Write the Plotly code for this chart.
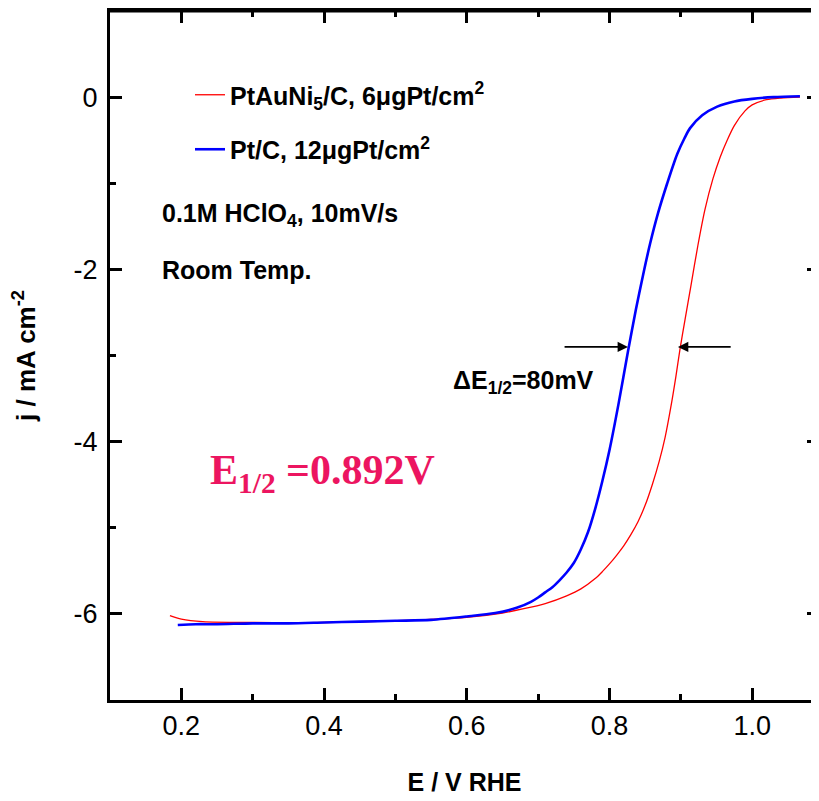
import plotly.graph_objects as go

# PtAuNi5/C (red)
red_E = [0.184, 0.20, 0.23, 0.30, 0.40, 0.50, 0.60, 0.65, 0.68, 0.71, 0.74, 0.76, 0.78, 0.79,
         0.80, 0.81, 0.82, 0.83, 0.84, 0.85, 0.86, 0.87, 0.878, 0.886, 0.893, 0.899, 0.906, 0.914,
         0.924, 0.934, 0.945, 0.955, 0.965, 0.975, 0.99, 1.00, 1.02, 1.04, 1.067]
red_j = [-6.02, -6.06, -6.09, -6.10, -6.10, -6.08, -6.04, -5.99, -5.94, -5.88, -5.79, -5.71, -5.59, -5.51,
         -5.42, -5.32, -5.21, -5.08, -4.93, -4.74, -4.50, -4.22, -3.95, -3.60, -3.25, -2.92, -2.58, -2.20,
         -1.72, -1.30, -0.95, -0.70, -0.50, -0.33, -0.16, -0.09, -0.03, -0.01, 0.0]

# Pt/C (blue)
blue_E = [0.195, 0.22, 0.25, 0.30, 0.35, 0.40, 0.45, 0.50, 0.55, 0.60, 0.64, 0.67, 0.69, 0.70,
          0.71, 0.72, 0.73, 0.74, 0.75, 0.76, 0.77, 0.78, 0.79, 0.80, 0.813, 0.826, 0.837,
          0.847, 0.857, 0.868, 0.881, 0.895, 0.905, 0.913, 0.93, 0.951, 0.975, 1.00, 1.03, 1.067]
blue_j = [-6.13, -6.12, -6.12, -6.11, -6.11, -6.10, -6.09, -6.08, -6.07, -6.03, -5.99, -5.93, -5.86, -5.81,
          -5.75, -5.69, -5.61, -5.52, -5.41, -5.25, -5.05, -4.78, -4.46, -4.10, -3.55, -2.95, -2.47,
          -2.07, -1.70, -1.35, -1.00, -0.66, -0.48, -0.36, -0.21, -0.11, -0.05, -0.02, 0.0, 0.01]

x_ticks = [0.2, 0.4, 0.6, 0.8, 1.0]
x_ticklabels = ["0.2", "0.4", "0.6", "0.8", "1.0"]
y_ticks = [0, -2, -4, -6]
y_ticklabels = ["0", "-2", "-4", "-6"]

half_wave_j = -2.9
E_half_blue = 0.826
E_half_red = 0.896

SANS = "Liberation Sans, Arial, sans-serif"
X_RANGE = [0.1, 1.0937]
Y_RANGE = [-7, 1]

fig = go.Figure()
fig.add_trace(go.Scatter(x=red_E, y=red_j, mode="lines",
                         line=dict(color="#ff0000", width=1.3, shape="spline", smoothing=0.8),
                         name="<b>PtAuNi<sub>5</sub>/C, 6μgPt/cm<sup>2</sup></b>", legendgroup="a",
                         xaxis="x", yaxis="y"))
fig.add_trace(go.Scatter(x=blue_E, y=blue_j, mode="lines",
                         line=dict(color="#0000ff", width=2.6, shape="spline", smoothing=0.8),
                         name="<b>Pt/C, 12μgPt/cm<sup>2</sup></b>", legendgroup="b",
                         xaxis="x2", yaxis="y2"))

tickstyle = dict(ticks="inside", ticklen=12, tickwidth=3, tickcolor="black")
minorstyle = dict(ticks="inside", ticklen=6, tickwidth=3, tickcolor="black")

# the page body keeps an 8 px margin, so the figure is sized to end at the window edge
fig.update_layout(
    width=811, height=793,
    margin=dict(l=102, r=0, t=3, b=101, autoexpand=False),
    paper_bgcolor="white", plot_bgcolor="white",
    showlegend=True,
    legend=dict(x=(190 - 110) / 709, y=1 - (72 - 11) / 689, xanchor="left", yanchor="top",
                font=dict(family=SANS, size=25, color="black"),
                bgcolor="rgba(0,0,0,0)", tracegroupgap=19),
    xaxis=dict(range=X_RANGE, tickvals=x_ticks, ticktext=x_ticklabels, automargin=False,
               showline=True, linewidth=3, linecolor="black", mirror=False,
               showgrid=False, zeroline=False, **tickstyle,
               minor=dict(dtick=0.1, **minorstyle),
               tickfont=dict(family=SANS, size=27, color="black"),
               title=dict(text="<b>E / V RHE</b>", font=dict(family=SANS, size=25, color="black"), standoff=34)),
    xaxis2=dict(range=X_RANGE, overlaying="x", side="top", anchor="y2", tickvals=x_ticks,
                showticklabels=False, automargin=False,
                showline=True, linewidth=3, linecolor="black",
                showgrid=False, zeroline=False, **tickstyle,
                minor=dict(dtick=0.1, **minorstyle)),
    yaxis=dict(range=Y_RANGE, tickvals=y_ticks, ticktext=y_ticklabels, automargin=False,
               showline=True, linewidth=3, linecolor="black", mirror=False,
               showgrid=False, zeroline=False, **tickstyle,
               minor=dict(dtick=1, **minorstyle),
               ticklabelstandoff=4,
               tickfont=dict(family=SANS, size=27, color="black"),
               title=dict(text="<b>j / mA cm<sup>-2</sup></b>", font=dict(family=SANS, size=26, color="black"), standoff=34)),
    yaxis2=dict(range=Y_RANGE, overlaying="y", side="right", anchor="x2", tickvals=y_ticks,
                showticklabels=False, automargin=False, showline=False, showgrid=False, zeroline=False,
                **tickstyle, minor=dict(dtick=1, **minorstyle)),
)

# top frame edge of the plot area
fig.add_shape(type="line", xref="paper", yref="paper", x0=0, x1=1, y0=1, y1=1,
              line=dict(color="black", width=3), layer="above")

# arrows marking E1/2
fig.add_annotation(x=E_half_blue, y=half_wave_j, ax=0.735, ay=half_wave_j, axref="x", ayref="y",
                   xref="x", yref="y", text="", showarrow=True, arrowhead=2, arrowsize=1.3,
                   arrowwidth=1.6, arrowcolor="black", standoff=0)
fig.add_annotation(x=E_half_red, y=half_wave_j, ax=0.972, ay=half_wave_j, axref="x", ayref="y",
                   xref="x", yref="y", text="", showarrow=True, arrowhead=2, arrowsize=1.3,
                   arrowwidth=1.6, arrowcolor="black", standoff=0)
fig.add_annotation(x=0.679, y=-3.31, xref="x", yref="y", text="<b>ΔE<sub>1/2</sub>=80mV</b>",
                   showarrow=False, font=dict(family=SANS, size=25, color="black"))
fig.add_annotation(x=0.170, y=-1.37, xref="x", yref="y", xanchor="left", text="<b>0.1M HClO<sub>4</sub>, 10mV/s</b>",
                   showarrow=False, font=dict(family=SANS, size=25, color="black"))
fig.add_annotation(x=0.170, y=-2.01, xref="x", yref="y", xanchor="left", text="<b>Room Temp.</b>",
                   showarrow=False, font=dict(family=SANS, size=25, color="black"))
fig.add_annotation(x=0.237, y=-4.37, xref="x", yref="y", xanchor="left", text="<b>E<sub>1/2</sub> =0.892V</b>",
                   showarrow=False, font=dict(family="Liberation Serif, Times New Roman, serif", size=42, color="#ec1560"))

fig.write_html("out.html", config={"displayModeBar": False})
